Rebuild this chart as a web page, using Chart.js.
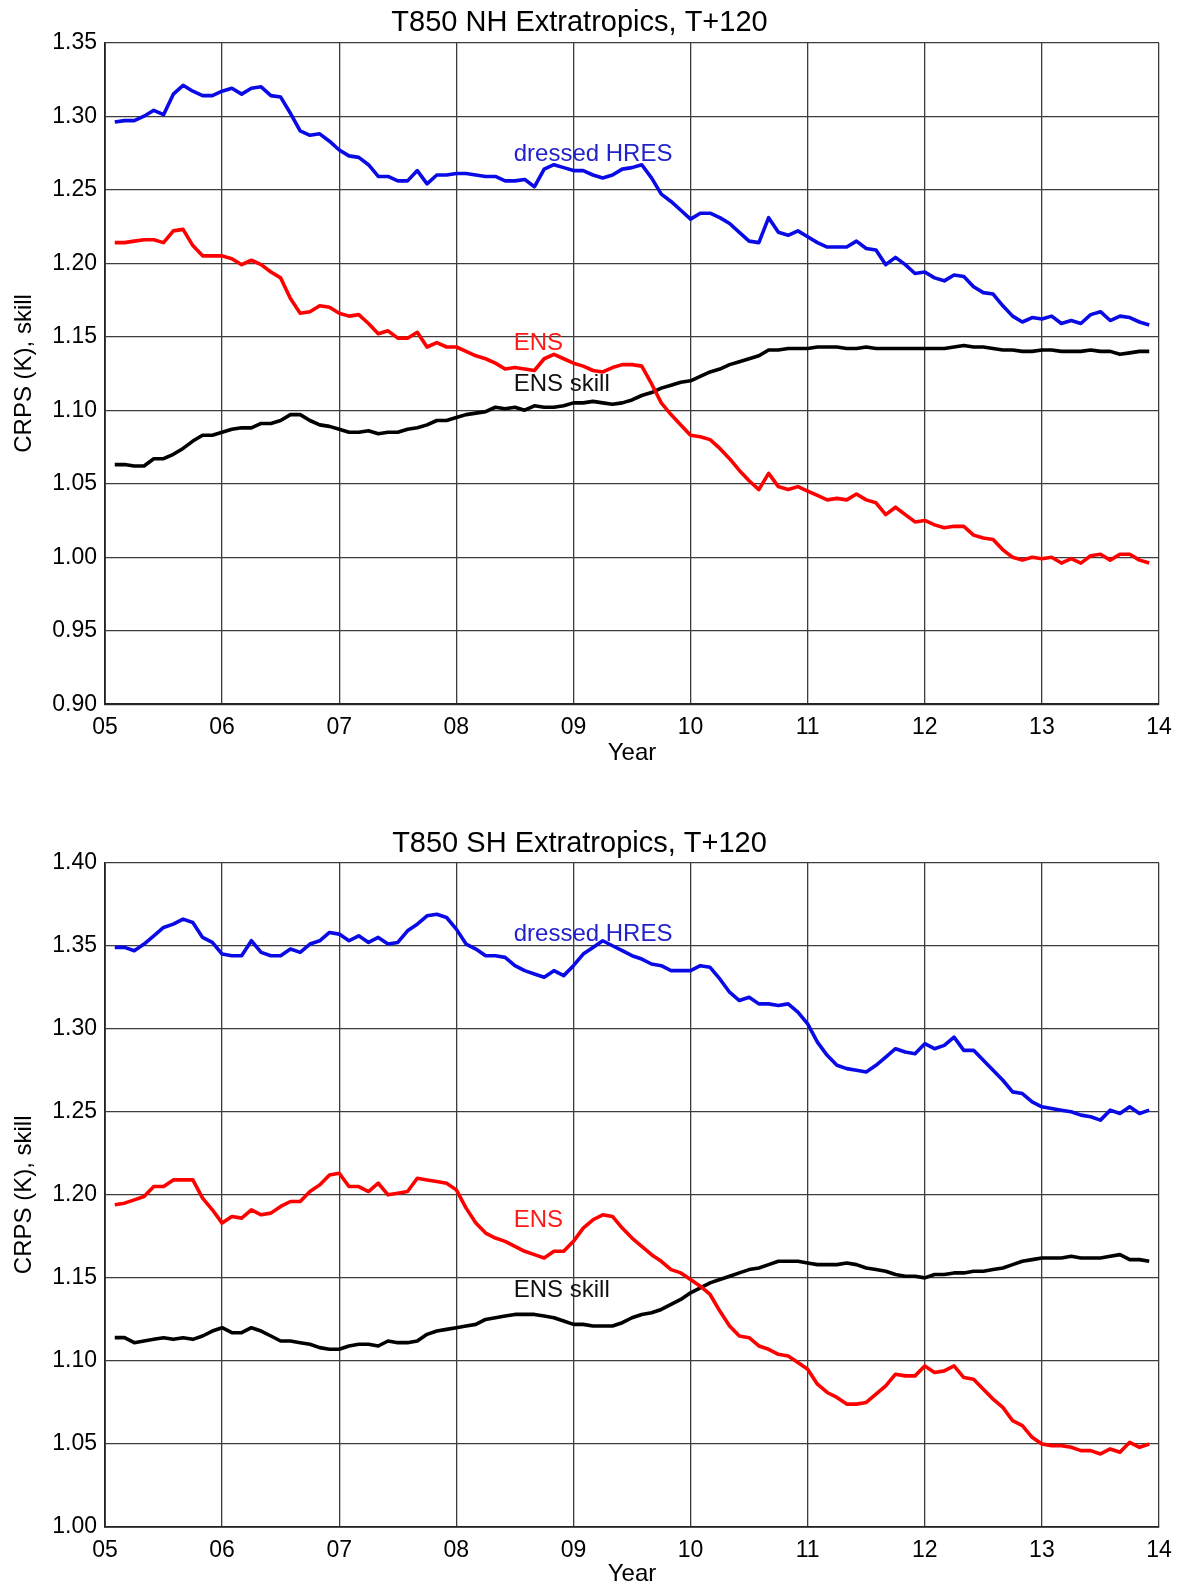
<!DOCTYPE html>
<html>
<head>
<meta charset="utf-8">
<title>T850 Extratropics, T+120</title>
<script src="https://cdn.jsdelivr.net/npm/chart.js@4.4.1/dist/chart.umd.min.js"></script>
<style>
  body { margin: 0; background: #fff; overflow: hidden; }
  .box { position: absolute; left: 0; width: 1179px; }
  #top { top: 0; height: 786px; }
  #bottom { top: 786px; height: 800px; }
</style>
</head>
<body>
<div class="box" id="top"><canvas id="nhChart"></canvas></div>
<div class="box" id="bottom"><canvas id="shChart"></canvas></div>
<script>
// monthly values, Feb 2005 .. Dec 2013 (12-month running scores)
let startYear = 5;
let xTicks = ["05", "06", "07", "08", "09", "10", "11", "12", "13", "14"];

// NH extratropics
let nhHres = [
  1.296, 1.297, 1.297, 1.300, 1.304, 1.301, 1.315, 1.321, 1.317, 1.314, 1.314,
  1.317, 1.319, 1.315, 1.319, 1.320, 1.314, 1.313, 1.302, 1.290, 1.287, 1.288,
  1.283, 1.277, 1.273, 1.272, 1.267, 1.259, 1.259, 1.256, 1.256, 1.263, 1.254,
  1.260, 1.260, 1.261, 1.261, 1.260, 1.259, 1.259, 1.256, 1.256, 1.257, 1.252,
  1.264, 1.267, 1.265, 1.263, 1.263, 1.260, 1.258, 1.260, 1.264, 1.265, 1.267,
  1.258, 1.247, 1.242, 1.236, 1.230, 1.234, 1.234, 1.231, 1.227, 1.221, 1.215,
  1.214, 1.231, 1.221, 1.219, 1.222, 1.218, 1.214, 1.211, 1.211, 1.211, 1.215,
  1.210, 1.209, 1.199, 1.204, 1.199, 1.193, 1.194, 1.190, 1.188, 1.192, 1.191,
  1.184, 1.180, 1.179, 1.171, 1.164, 1.160, 1.163, 1.162, 1.164, 1.159, 1.161,
  1.159, 1.165, 1.167, 1.161, 1.164, 1.163, 1.160, 1.158
];
let nhEns = [
  1.214, 1.214, 1.215, 1.216, 1.216, 1.214, 1.222, 1.223, 1.212, 1.205, 1.205,
  1.205, 1.203, 1.199, 1.202, 1.199, 1.194, 1.190, 1.176, 1.166, 1.167, 1.171,
  1.170, 1.166, 1.164, 1.165, 1.159, 1.152, 1.154, 1.149, 1.149, 1.153, 1.143,
  1.146, 1.143, 1.143, 1.140, 1.137, 1.135, 1.132, 1.128, 1.129, 1.128, 1.127,
  1.135, 1.138, 1.135, 1.132, 1.130, 1.127, 1.126, 1.129, 1.131, 1.131, 1.130,
  1.118, 1.105, 1.097, 1.090, 1.083, 1.082, 1.080, 1.074, 1.067, 1.059, 1.052,
  1.046, 1.057, 1.048, 1.046, 1.048, 1.045, 1.042, 1.039, 1.040, 1.039, 1.043,
  1.039, 1.037, 1.029, 1.034, 1.029, 1.024, 1.025, 1.022, 1.020, 1.021, 1.021,
  1.015, 1.013, 1.012, 1.005, 1.000, 0.998, 1.000, 0.999, 1.000, 0.996, 0.999,
  0.996, 1.001, 1.002, 0.998, 1.002, 1.002, 0.998, 0.996
];
let nhSkill = [
  1.063, 1.063, 1.062, 1.062, 1.067, 1.067, 1.070, 1.074, 1.079, 1.083, 1.083,
  1.085, 1.087, 1.088, 1.088, 1.091, 1.091, 1.093, 1.097, 1.097, 1.093, 1.090,
  1.089, 1.087, 1.085, 1.085, 1.086, 1.084, 1.085, 1.085, 1.087, 1.088, 1.090,
  1.093, 1.093, 1.095, 1.097, 1.098, 1.099, 1.102, 1.101, 1.102, 1.100, 1.103,
  1.102, 1.102, 1.103, 1.105, 1.105, 1.106, 1.105, 1.104, 1.105, 1.107, 1.110,
  1.112, 1.115, 1.117, 1.119, 1.120, 1.123, 1.126, 1.128, 1.131, 1.133, 1.135,
  1.137, 1.141, 1.141, 1.142, 1.142, 1.142, 1.143, 1.143, 1.143, 1.142, 1.142,
  1.143, 1.142, 1.142, 1.142, 1.142, 1.142, 1.142, 1.142, 1.142, 1.143, 1.144,
  1.143, 1.143, 1.142, 1.141, 1.141, 1.140, 1.140, 1.141, 1.141, 1.140, 1.140,
  1.140, 1.141, 1.140, 1.140, 1.138, 1.139, 1.140, 1.140
];

// SH extratropics
let shHres = [
  1.349, 1.349, 1.347, 1.351, 1.356, 1.361, 1.363, 1.366, 1.364, 1.355, 1.352,
  1.345, 1.344, 1.344, 1.353, 1.346, 1.344, 1.344, 1.348, 1.346, 1.351, 1.353,
  1.358, 1.357, 1.353, 1.356, 1.352, 1.355, 1.351, 1.352, 1.359, 1.363, 1.368,
  1.369, 1.367, 1.360, 1.351, 1.348, 1.344, 1.344, 1.343, 1.338, 1.335, 1.333,
  1.331, 1.335, 1.332, 1.338, 1.345, 1.349, 1.353, 1.350, 1.347, 1.344, 1.342,
  1.339, 1.338, 1.335, 1.335, 1.335, 1.338, 1.337, 1.330, 1.322, 1.317, 1.319,
  1.315, 1.315, 1.314, 1.315, 1.310, 1.303, 1.292, 1.284, 1.278, 1.276, 1.275,
  1.274, 1.278, 1.283, 1.288, 1.286, 1.285, 1.291, 1.288, 1.290, 1.295, 1.287,
  1.287, 1.281, 1.275, 1.269, 1.262, 1.261, 1.256, 1.253, 1.252, 1.251, 1.250,
  1.248, 1.247, 1.245, 1.251, 1.249, 1.253, 1.249, 1.251
];
let shEns = [
  1.194, 1.195, 1.197, 1.199, 1.205, 1.205, 1.209, 1.209, 1.209, 1.198, 1.191,
  1.183, 1.187, 1.186, 1.191, 1.188, 1.189, 1.193, 1.196, 1.196, 1.202, 1.206,
  1.212, 1.213, 1.205, 1.205, 1.202, 1.207, 1.200, 1.201, 1.202, 1.210, 1.209,
  1.208, 1.207, 1.203, 1.192, 1.183, 1.177, 1.174, 1.172, 1.169, 1.166, 1.164,
  1.162, 1.166, 1.166, 1.172, 1.180, 1.185, 1.188, 1.187, 1.180, 1.174, 1.169,
  1.164, 1.160, 1.155, 1.153, 1.149, 1.145, 1.140, 1.130, 1.121, 1.115, 1.114,
  1.109, 1.107, 1.104, 1.103, 1.099, 1.095, 1.086, 1.081, 1.078, 1.074, 1.074,
  1.075, 1.080, 1.085, 1.092, 1.091, 1.091, 1.097, 1.093, 1.094, 1.097, 1.090,
  1.089, 1.083, 1.077, 1.072, 1.064, 1.061, 1.054, 1.050, 1.049, 1.049, 1.048,
  1.046, 1.046, 1.044, 1.047, 1.045, 1.051, 1.048, 1.050
];
let shSkill = [
  1.114, 1.114, 1.111, 1.112, 1.113, 1.114, 1.113, 1.114, 1.113, 1.115, 1.118,
  1.120, 1.117, 1.117, 1.120, 1.118, 1.115, 1.112, 1.112, 1.111, 1.110, 1.108,
  1.107, 1.107, 1.109, 1.110, 1.110, 1.109, 1.112, 1.111, 1.111, 1.112, 1.116,
  1.118, 1.119, 1.120, 1.121, 1.122, 1.125, 1.126, 1.127, 1.128, 1.128, 1.128,
  1.127, 1.126, 1.124, 1.122, 1.122, 1.121, 1.121, 1.121, 1.123, 1.126, 1.128,
  1.129, 1.131, 1.134, 1.137, 1.141, 1.144, 1.147, 1.149, 1.151, 1.153, 1.155,
  1.156, 1.158, 1.160, 1.160, 1.160, 1.159, 1.158, 1.158, 1.158, 1.159, 1.158,
  1.156, 1.155, 1.154, 1.152, 1.151, 1.151, 1.150, 1.152, 1.152, 1.153, 1.153,
  1.154, 1.154, 1.155, 1.156, 1.158, 1.160, 1.161, 1.162, 1.162, 1.162, 1.163,
  1.162, 1.162, 1.162, 1.163, 1.164, 1.161, 1.161, 1.160
];

// where the series names sit (year, value)
let nhNames = [
  { text: "dressed HRES", x: 8.49, y: 1.274, color: "#2222cc" },
  { text: "ENS", x: 8.49, y: 1.1455, color: "#ff1a1a" },
  { text: "ENS skill", x: 8.49, y: 1.1175, color: "#111" }
];
let shNames = [
  { text: "dressed HRES", x: 8.49, y: 1.3568, color: "#2222cc" },
  { text: "ENS", x: 8.49, y: 1.1845, color: "#ff1a1a" },
  { text: "ENS skill", x: 8.49, y: 1.1422, color: "#111" }
];

let fontName = '"Liberation Sans", Arial, Helvetica, sans-serif';
let gridColor = "#3c3c3c";

function toPoints(values) {
  // month k (1..) -> year 05 + k/12
  let pts = [];
  for (let i = 0; i < values.length; i++) {
    pts.push({ x: startYear + (i + 1) / 12, y: values[i] });
  }
  return pts;
}

// writes the series names inside the plot
let namesPlugin = {
  id: "seriesNames",
  afterDatasetsDraw(chart, args, opts) {
    let ctx = chart.ctx;
    let xs = chart.scales.x, ys = chart.scales.y;
    ctx.save();
    ctx.font = "24px " + fontName;
    ctx.textAlign = "left";
    ctx.textBaseline = "middle";
    opts.items.forEach(function (it) {
      ctx.fillStyle = it.color;
      ctx.fillText(it.text, xs.getPixelForValue(it.x), ys.getPixelForValue(it.y));
    });
    ctx.restore();
  }
};

function makeChart(id, title, yMin, yMax, hres, ens, skill, names, titlePad, bottomPad, yearPad) {
  return new Chart(document.getElementById(id), {
    type: "line",
    data: {
      datasets: [
        { data: toPoints(hres), borderColor: "#0a0ae6" },
        { data: toPoints(ens), borderColor: "#ff0000" },
        { data: toPoints(skill), borderColor: "#000000" }
      ]
    },
    options: {
      responsive: true,
      maintainAspectRatio: false,
      animation: false,
      layout: { padding: { left: 0, right: 20, top: 0, bottom: bottomPad } },
      elements: {
        point: { radius: 0 },
        line: { borderWidth: 3.6, tension: 0, borderJoinStyle: "round" }
      },
      plugins: {
        legend: { display: false },
        tooltip: { enabled: false },
        title: {
          display: true,
          text: title,
          color: "#000",
          font: { family: fontName, size: 29, weight: "normal", lineHeight: 1 },
          padding: titlePad
        },
        seriesNames: { items: names }
      },
      scales: {
        x: {
          type: "linear",
          min: 5,
          max: 14,
          ticks: {
            stepSize: 1,
            color: "#000",
            padding: 0,
            maxRotation: 0,
            font: { family: fontName, size: 23, lineHeight: 1 },
            callback: function (v) { return xTicks[v - startYear]; }
          },
          // invisible tick marks keep the labels off the axis
          grid: { color: gridColor, lineWidth: 1.3, drawTicks: true, tickLength: 12, tickColor: "rgba(0,0,0,0)" },
          border: { color: "#222", width: 1.8 },
          title: {
            display: true,
            text: "Year",
            color: "#000",
            font: { family: fontName, size: 24, lineHeight: 1 },
            padding: { top: yearPad, bottom: 0 }
          }
        },
        y: {
          min: yMin,
          max: yMax,
          afterFit: function (scale) { scale.width = 105; },
          ticks: {
            stepSize: 0.05,
            color: "#000",
            padding: 8,
            font: { family: fontName, size: 23 },
            callback: function (v) { return v.toFixed(2); }
          },
          grid: { color: gridColor, lineWidth: 1.3, drawTicks: false },
          border: { color: "#222", width: 1.8 },
          title: {
            display: true,
            text: "CRPS (K), skill",
            color: "#000",
            font: { family: fontName, size: 24, lineHeight: 1.2 },
            padding: { top: 10, bottom: 0 }
          }
        }
      }
    },
    plugins: [namesPlugin]
  });
}

makeChart("nhChart", "T850 NH Extratropics, T+120", 0.90, 1.35,
  nhHres, nhEns, nhSkill, nhNames, { top: 8.7, bottom: 5 }, 20.3, 2.5);
makeChart("shChart", "T850 SH Extratropics, T+120", 1.00, 1.40,
  shHres, shEns, shSkill, shNames, { top: 43.4, bottom: 4.3 }, 0, 0);
</script>
</body>
</html>
